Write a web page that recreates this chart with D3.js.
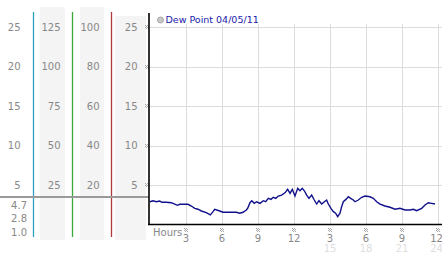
<!DOCTYPE html>
<html><head><meta charset="utf-8">
<script src="https://cdn.jsdelivr.net/npm/d3@7"></script>
<style>body{margin:0;background:#fff}svg{display:block}text{font-family:"DejaVu Sans",Verdana,sans-serif}</style>
</head><body>
<svg id="c" width="442" height="253"></svg>
<script>
const hours = [0,0.25,0.53,0.81,1.0,1.36,1.78,2.06,2.28,2.48,2.75,3.17,3.44,3.73,4.0,4.28,4.69,5.03,5.25,5.39,5.81,6.08,6.78,7.19,7.48,7.75,8.03,
8.14,8.33,8.48,8.69,8.89,9.17,9.44,9.64,9.86,10.08,10.28,10.48,10.69,10.97,11.25,11.47,11.67,11.86,12.08,12.31,12.5,12.69,12.86,13.06,13.25,13.47,13.69,13.89,14.08,14.31,14.53,14.72,14.86,15.08,15.28,15.47,15.64,15.83,
15.97,16.11,16.33,16.53,16.72,16.94,17.08,17.36,17.64,17.92,18.33,18.61,18.89,19.17,19.58,20.0,20.42,20.83,21.25,21.67,21.94,22.22,22.64,22.92,23.19,23.47,23.75];
const dewPoint = [2.88,3.01,2.88,2.97,2.81,2.81,2.76,2.59,2.43,2.56,2.56,2.56,2.34,2.05,1.93,1.71,1.50,1.21,1.63,1.93,1.71,1.55,1.55,1.55,1.43,1.55,1.84,
2.05,2.76,3.01,2.68,2.88,2.68,3.01,2.88,3.31,3.18,3.44,3.31,3.60,3.72,4.01,4.45,3.94,4.45,3.60,4.59,4.27,4.59,4.27,3.72,3.31,3.72,3.10,2.59,3.01,2.59,2.88,3.10,2.59,2.05,1.63,1.43,0.99,1.43,
2.25,2.88,3.18,3.51,3.31,3.10,2.88,3.10,3.44,3.60,3.51,3.31,2.88,2.59,2.34,2.18,1.93,2.05,1.84,1.84,1.93,1.75,2.05,2.47,2.76,2.68,2.59];
const yTicks = [25,20,15,10,5];
const col1Labels = ["25","20","15","10","5"];
const col2Labels = ["125","100","75","50","25"];
const col3Labels = ["100","80","60","40","20"];
const col4Labels = ["25","20","15","10","5"];
const statLabels = ["4.7","2.8","1.0"];
const xTicks = [3,6,9,12,15,18,21,24];
const xTickLabels = ["3","6","9","12","3","6","9","12"];
const xTickLabels2 = ["","","","","15","18","21","24"];
const legendLabel = "Dew Point 04/05/11";

const svg = d3.select("#c");
const x = d3.scaleLinear().domain([0,24]).range([150,438]);
const y = d3.scaleLinear().domain([0,25]).range([224.5,27]);
const gray = "#888";

// left panel backgrounds
[[40,7,25,233],[80,7,24,233],[115,16,31,224]].forEach(r=>{
  svg.append("rect").attr("x",r[0]).attr("y",r[1]).attr("width",r[2]).attr("height",r[3]).attr("fill","#f4f4f4");
});
// colored vertical lines
[[33,"#2f9fc0"],[72,"#3aa83a"],[111,"#b03a3a"]].forEach(d=>{
  svg.append("line").attr("x1",d[0]+0.5).attr("x2",d[0]+0.5).attr("y1",12).attr("y2",237).attr("stroke",d[1]).attr("stroke-width",1.3);
});
// horizontal gray separator
svg.append("line").attr("x1",0).attr("x2",149).attr("y1",197).attr("y2",197).attr("stroke","#9a9a9a").attr("stroke-width",2);

// column labels
function col(labels,xr){
  svg.append("g").selectAll("text").data(labels).join("text")
    .attr("x",xr).attr("y",(d,i)=>y(yTicks[i])).attr("dy","0.35em")
    .attr("text-anchor","end").attr("font-size",10).attr("fill",gray).text(d=>d);
}
col(col1Labels,20.5); col(col2Labels,60.5); col(col3Labels,99.5); col(col4Labels,137.5);
svg.append("g").selectAll("text").data(statLabels).join("text")
  .attr("x",27).attr("y",(d,i)=>205+i*13.5).attr("dy","0.35em")
  .attr("text-anchor","end").attr("font-size",10).attr("fill",gray).text(d=>d);

// grid
svg.append("g").selectAll("line").data(yTicks).join("line")
  .attr("x1",149).attr("x2",442).attr("y1",d=>Math.round(y(d))+0.5).attr("y2",d=>Math.round(y(d))+0.5)
  .attr("stroke","#dcdcdc");
svg.append("g").selectAll("line").data(xTicks).join("line")
  .attr("x1",d=>Math.round(x(d))+0.5).attr("x2",d=>Math.round(x(d))+0.5).attr("y1",24).attr("y2",224)
  .attr("stroke","#dcdcdc");

// tick glyphs (small checker X marks)
const glyphCells = [[0,0],[2,0],[1,1],[3,1],[0,2],[2,2],[1,3],[3,3]];
function glyph(cx,cy){
  const g = svg.append("g").attr("transform",`translate(${Math.round(cx)-2},${Math.round(cy)-2})`);
  g.selectAll("rect").data(glyphCells).join("rect")
    .attr("x",d=>d[0]).attr("y",d=>d[1]).attr("width",1).attr("height",1).attr("fill","#a8a8a8");
}
yTicks.forEach(t=>glyph(146.5,y(t)));
xTicks.forEach(t=>glyph(Math.min(x(t),438)-0.5,230));

// x tick labels
svg.append("g").selectAll("text").data(xTickLabels).join("text")
  .attr("x",(d,i)=>Math.min(x(xTicks[i]),436.5)).attr("y",238.5).attr("dy","0.35em").attr("text-anchor","middle")
  .attr("font-size",10).attr("fill",gray).text(d=>d);
svg.append("g").selectAll("text").data(xTickLabels2).join("text")
  .attr("x",(d,i)=>Math.min(x(xTicks[i]),436.5)).attr("y",248).attr("dy","0.35em").attr("text-anchor","middle")
  .attr("font-size",10).attr("fill","#dedede").text(d=>d);
svg.append("text").attr("x",153).attr("y",232).attr("dy","0.35em").attr("font-size",10).attr("fill",gray).text("Hours");

// line
const data = hours.map((h,i)=>({h,v:dewPoint[i]}));
svg.append("path").datum(data)
  .attr("d",d3.line().x(d=>x(d.h)).y(d=>y(d.v)))
  .attr("fill","none").attr("stroke","#10108c").attr("stroke-width",1.4);

// axes
svg.append("line").attr("x1",149).attr("x2",149).attr("y1",13).attr("y2",225).attr("stroke","#000").attr("stroke-width",1.6);
svg.append("line").attr("x1",148).attr("x2",442).attr("y1",224.5).attr("y2",224.5).attr("stroke","#000").attr("stroke-width",1.6);

// legend
svg.append("circle").attr("cx",160.5).attr("cy",20).attr("r",3).attr("fill","#c8c8c8").attr("stroke","#999").attr("stroke-width",0.8);
svg.append("text").attr("x",165.5).attr("y",20).attr("dy","0.35em").attr("font-size",9.5).attr("fill","#1a1aaa").text(legendLabel);
</script>
</body></html>
